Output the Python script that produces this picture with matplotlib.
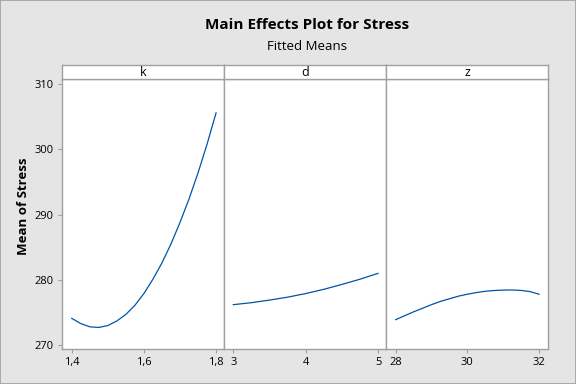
import matplotlib
matplotlib.use("Agg")
import matplotlib.pyplot as plt
from matplotlib.patches import Rectangle

plt.rcParams['font.family'] = ['Open Sans', 'DejaVu Sans']

# fitted means
k_vals = [1.400, 1.425, 1.450, 1.475, 1.500, 1.525, 1.550, 1.575, 1.600,
          1.625, 1.650, 1.675, 1.700, 1.725, 1.750, 1.775, 1.800]
k_means = [274.1, 273.3, 272.8, 272.7, 273.0, 273.7, 274.7, 276.1, 277.9,
           280.1, 282.6, 285.5, 288.8, 292.4, 296.4, 300.8, 305.6]

d_vals = [3.00, 3.25, 3.50, 3.75, 4.00, 4.25, 4.50, 4.75, 5.00]
d_means = [276.2, 276.5, 276.9, 277.35, 277.9, 278.55, 279.3, 280.1, 281.0]

z_vals = [28.0, 28.25, 28.5, 28.75, 29.0, 29.25, 29.5, 29.75, 30.0,
          30.25, 30.5, 30.75, 31.0, 31.25, 31.5, 31.75, 32.0]
z_means = [273.9, 274.5, 275.1, 275.65, 276.2, 276.7, 277.1, 277.5, 277.8,
           278.05, 278.25, 278.37, 278.43, 278.45, 278.38, 278.2, 277.8]

factors = ["k", "d", "z"]
xs = [k_vals, d_vals, z_vals]
ys = [k_means, d_means, z_means]
xticks = [[1.4, 1.6, 1.8], [3, 4, 5], [28, 30, 32]]
xticklabels = [["1,4", "1,6", "1,8"], ["3", "4", "5"], ["28", "30", "32"]]
xlims = [(1.373, 1.822), (2.871, 5.11), (27.73, 32.25)]
yticks = [270, 280, 290, 300, 310]

bg = "#E5E5E5"
edge = "#A0A0A0"
blue = "#0054A6"

fig = plt.figure(figsize=(5.76, 3.84), dpi=100, facecolor=bg)
fig.patches.append(Rectangle((0, 0), 1, 1, transform=fig.transFigure,
                             fill=False, edgecolor=edge, linewidth=1.2))

W, H = 576.0, 384.0
edges_px = [62, 224, 386, 548]
bottom = 1 - 349 / H
top = 1 - 79 / H
strip_top = 1 - 65 / H

for i in range(3):
    left = edges_px[i] / W
    width = (edges_px[i + 1] - edges_px[i]) / W
    ax = fig.add_axes([left, bottom, width, top - bottom])
    ax.plot(xs[i], ys[i], color=blue, linewidth=0.9)
    ax.set_xlim(xlims[i])
    ax.set_ylim(269.4, 310.8)
    ax.set_xticks(xticks[i])
    ax.set_xticklabels(xticklabels[i])
    ax.set_facecolor("white")
    for s in ax.spines.values():
        s.set_color(edge)
        s.set_linewidth(1.0)
    ax.tick_params(axis="both", direction="out", length=3, width=0.8,
                   color=edge, labelsize=8, pad=3)
    if i == 0:
        ax.set_yticks(yticks)
        ax.set_ylabel("Mean of Stress", fontsize=9.5, fontweight="bold")
        ax.yaxis.set_label_coords(-0.2, 0.53)
    else:
        ax.set_yticks([])

    sax = fig.add_axes([left, top, width, strip_top - top])
    sax.set_xticks([])
    sax.set_yticks([])
    sax.set_facecolor("white")
    for s in sax.spines.values():
        s.set_color(edge)
        s.set_linewidth(1.0)
    sax.text(0.5, 0.45, factors[i], ha="center", va="center", fontsize=9,
             transform=sax.transAxes)

fig.text(0.533, 1 - 25 / H, "Main Effects Plot for Stress", ha="center",
         va="center", fontsize=11, fontweight="bold")
fig.text(0.533, 1 - 46 / H, "Fitted Means", ha="center", va="center",
         fontsize=9.5)

fig.savefig("out.png", dpi=100, facecolor=bg)
